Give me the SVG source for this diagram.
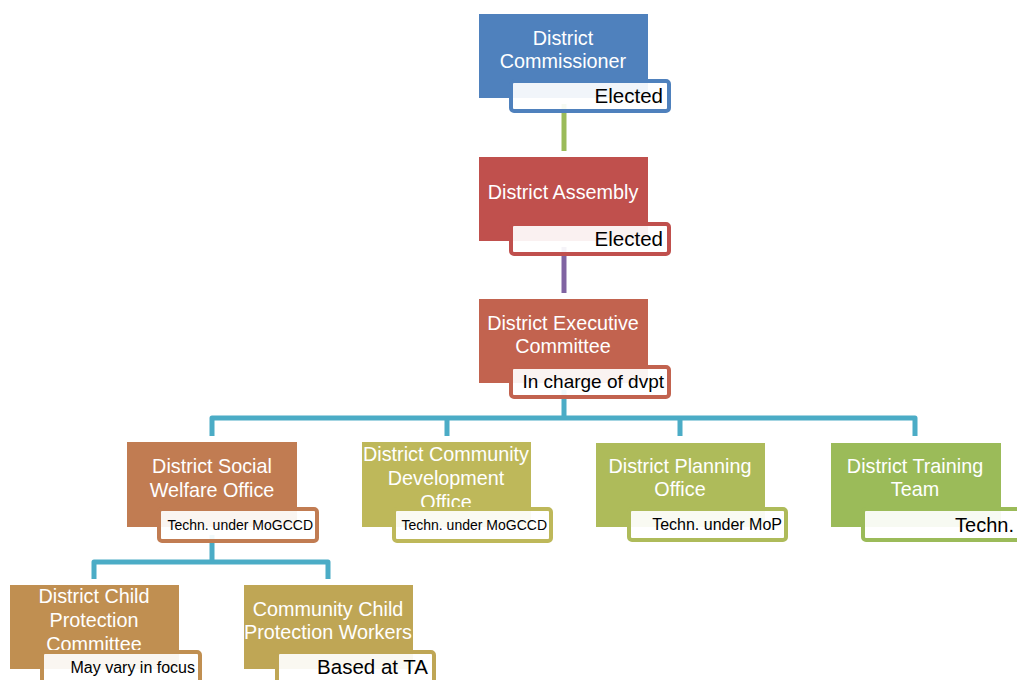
<svg xmlns="http://www.w3.org/2000/svg" width="1017" height="680" viewBox="0 0 1017 680">
<style>
.m{font-family:"Liberation Sans",Arial,sans-serif;font-size:19.8px;fill:#fff;text-anchor:middle}
.lb{fill:#fff;fill-opacity:0.92;stroke-width:4}
.lt{font-family:"Liberation Sans",Arial,sans-serif;fill:#000;text-anchor:end}
.c{fill:none;stroke-width:5;stroke-linejoin:round;stroke-linecap:butt}
</style>
<rect width="1017" height="680" fill="#fff"/>
<g id="connectors">
<line class="c" x1="564" y1="104" x2="564" y2="151" stroke="#9BBB59"/>
<line class="c" x1="564" y1="247" x2="564" y2="293" stroke="#8064A2"/>
<path class="c" d="M564 390 V418 M212 436 V418 H915 V436 M447 418 V436 M680 418 V436" stroke="#4BACC6"/>
<path class="c" d="M212 535 V562 M94 579 V562 H328 V579" stroke="#4BACC6"/>
</g>
<g id="n1">
<rect x="479" y="14" width="169" height="84" fill="#4F81BD"/>
<text class="m" x="563" y="45">District</text>
<text class="m" x="563" y="68">Commissioner</text>
<rect class="lb" x="511" y="81" width="158" height="30" rx="3" stroke="#4F81BD"/>
<text class="lt" x="663" y="103" font-size="20.5">Elected</text>
</g>
<g id="n2">
<rect x="479" y="157" width="169" height="84" fill="#C0504D"/>
<text class="m" x="563" y="199">District Assembly</text>
<rect class="lb" x="511" y="224" width="158" height="30" rx="3" stroke="#C0504D"/>
<text class="lt" x="663" y="246" font-size="20.5">Elected</text>
</g>
<g id="n3">
<rect x="479" y="299" width="169" height="84" fill="#C2634F"/>
<text class="m" x="563" y="330">District Executive</text>
<text class="m" x="563" y="353">Committee</text>
<rect class="lb" x="511" y="367" width="158" height="30" rx="3" stroke="#C2634F"/>
<text class="lt" x="664" y="388" font-size="19">In charge of dvpt</text>
</g>
<g id="n4">
<rect x="127" y="442" width="170" height="85" fill="#C17C52"/>
<text class="m" x="212" y="473">District Social</text>
<text class="m" x="212" y="497">Welfare Office</text>
<rect class="lb" x="159" y="509" width="158" height="32" rx="3" stroke="#C17C52"/>
<text class="lt" x="313" y="530" font-size="14">Techn. under MoGCCD</text>
</g>
<g id="n5">
<rect x="362" y="442" width="169" height="85" fill="#BEB85A"/>
<text class="m" x="446" y="461">District Community</text>
<text class="m" x="446" y="485">Development</text>
<text class="m" x="446" y="509">Office</text>
<rect class="lb" x="394" y="509" width="157" height="32" rx="3" stroke="#BEB85A"/>
<text class="lt" x="547" y="530" font-size="14">Techn. under MoGCCD</text>
</g>
<g id="n6">
<rect x="596" y="443" width="169" height="84" fill="#AEBB5A"/>
<text class="m" x="680" y="473">District Planning</text>
<text class="m" x="680" y="496">Office</text>
<rect class="lb" x="629" y="509" width="157" height="31" rx="3" stroke="#AEBB5A"/>
<text class="lt" x="782" y="530" font-size="16">Techn. under MoP</text>
</g>
<g id="n7">
<rect x="831" y="443" width="170" height="84" fill="#9BBB59"/>
<text class="m" x="915" y="473">District Training</text>
<text class="m" x="915" y="496">Team</text>
<rect class="lb" x="863" y="509" width="162" height="31" rx="3" stroke="#9BBB59"/>
<text class="lt" x="1014" y="532" font-size="20">Techn.</text>
</g>
<g id="n8">
<rect x="10" y="585" width="169" height="84" fill="#C08F51"/>
<text class="m" x="94" y="603">District Child</text>
<text class="m" x="94" y="627">Protection</text>
<text class="m" x="94" y="651">Committee</text>
<rect class="lb" x="42" y="652" width="158" height="34" rx="3" stroke="#C08F51"/>
<text class="lt" x="195" y="673" font-size="16">May vary in focus</text>
</g>
<g id="n9">
<rect x="244" y="585" width="169" height="84" fill="#BFA655"/>
<text class="m" x="328" y="616">Community Child</text>
<text class="m" x="328" y="639">Protection Workers</text>
<rect class="lb" x="277" y="652" width="157" height="34" rx="3" stroke="#BFA655"/>
<text class="lt" x="428" y="674" font-size="20.5">Based at TA</text>
</g>
</svg>
